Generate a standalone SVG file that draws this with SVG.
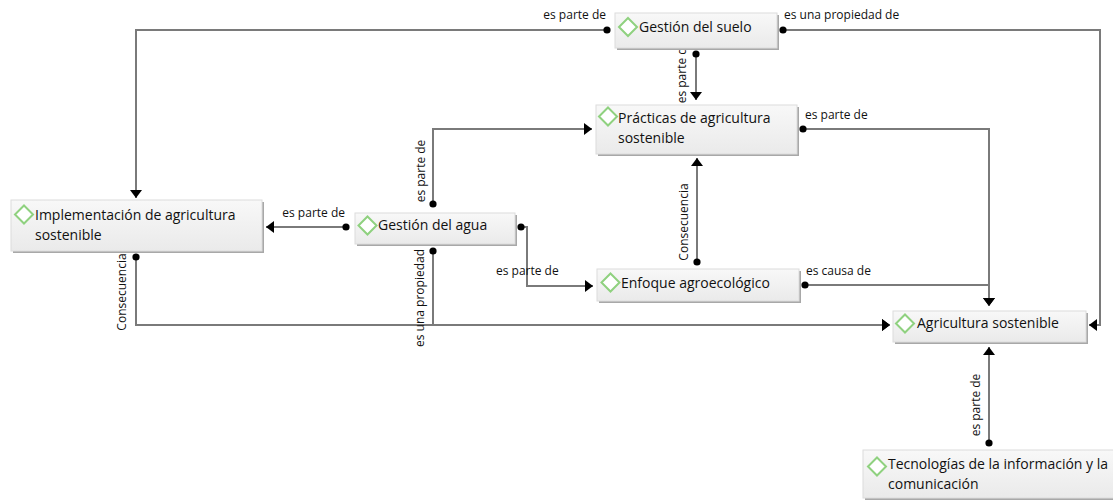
<svg xmlns="http://www.w3.org/2000/svg" width="1113" height="501" viewBox="0 0 1113 501">
  <style>
    .conn { fill: none; stroke: #7a7a7a; stroke-width: 2; marker-start: url(#dot); marker-end: url(#arrow); }
    .lbl { font-family: "Open Sans", "Liberation Sans", sans-serif; font-size: 12px; fill: #111111; }
    .box { fill: url(#boxGrad); stroke: #dcdcdc; stroke-width: 1; }
    .shadow { fill: #a8a8a8; }
    .dia { fill: #ffffff; stroke: #8fd17f; stroke-width: 2; }
    .txt { font-family: "Open Sans", "Liberation Sans", sans-serif; font-size: 14px; fill: #111111; }
  </style>
  <defs>
    <linearGradient id="boxGrad" x1="0" y1="0" x2="0" y2="1">
      <stop offset="0" stop-color="#f8f8f8"/>
      <stop offset="1" stop-color="#eaeaea"/>
    </linearGradient>
    <marker id="arrow" markerUnits="userSpaceOnUse" markerWidth="14" markerHeight="14" refX="8" refY="6" orient="auto">
      <path d="M0,0 L8,6 L0,12 z" fill="#000"/>
    </marker>
    <marker id="dot" markerUnits="userSpaceOnUse" markerWidth="8" markerHeight="8" refX="4" refY="4">
      <circle cx="4" cy="4" r="3.6" fill="#000"/>
    </marker>
  </defs>
  <rect width="1113" height="501" fill="#ffffff"/>

  <g id="connectors">
    <path class="conn" d="M607 30 H136 V198"/>
    <path class="conn" d="M783 30 H1100 V325 H1089"/>
    <path class="conn" d="M696 54 V100"/>
    <path class="conn" d="M433 204 V129 H592"/>
    <path class="conn" d="M346 227 H266"/>
    <path class="conn" d="M521 227 H527 V286 H593"/>
    <path class="conn" d="M136 257 V325 H890"/>
    <path class="conn" d="M433 251 V325 H890"/>
    <path class="conn" d="M697 262 V158"/>
    <path class="conn" d="M803 129 H989 V306"/>
    <path class="conn" d="M805 285 H989 V306"/>
    <path class="conn" d="M989 443 V347"/>
  </g>

  <g id="connector-labels">
    <text class="lbl" x="606" y="19" text-anchor="end">es parte de</text>
    <text class="lbl" x="784" y="19">es una propiedad de</text>
    <text class="lbl" transform="translate(686,72) rotate(-90)" text-anchor="middle">es parte de</text>
    <text class="lbl" transform="translate(425,171) rotate(-90)" text-anchor="middle">es parte de</text>
    <text class="lbl" x="345" y="217" text-anchor="end">es parte de</text>
    <text class="lbl" x="496" y="275">es parte de</text>
    <text class="lbl" transform="translate(424,298) rotate(-90)" text-anchor="middle">es una propiedad</text>
    <text class="lbl" transform="translate(126,292) rotate(-90)" text-anchor="middle">Consecuencia</text>
    <text class="lbl" transform="translate(688,222) rotate(-90)" text-anchor="middle">Consecuencia</text>
    <text class="lbl" x="805" y="119">es parte de</text>
    <text class="lbl" x="806" y="275">es causa de</text>
    <text class="lbl" transform="translate(980,405) rotate(-90)" text-anchor="middle">es parte de</text>
  </g>

  <g id="node-gestion-suelo">
    <rect class="shadow" x="617" y="15" width="162" height="35"/>
    <rect class="box" x="615" y="13" width="162" height="35"/>
    <path class="dia" d="M628 18 L637 27 L628 36 L619 27 z"/>
    <text class="txt" x="639" y="32">Gestión del suelo</text>
  </g>

  <g id="node-practicas">
    <rect class="shadow" x="598" y="107" width="201" height="49"/>
    <rect class="box" x="596" y="105" width="201" height="49"/>
    <path class="dia" d="M608 107.5 L617 116.5 L608 125.5 L599 116.5 z"/>
    <text class="txt" x="618" y="123">Prácticas de agricultura</text>
    <text class="txt" x="618" y="143">sostenible</text>
  </g>

  <g id="node-implementacion">
    <rect class="shadow" x="13" y="202" width="251" height="51"/>
    <rect class="box" x="11" y="200" width="251" height="51"/>
    <path class="dia" d="M24 205.5 L33 214.5 L24 223.5 L15 214.5 z"/>
    <text class="txt" x="35" y="220">Implementación de agricultura</text>
    <text class="txt" x="35" y="240">sostenible</text>
  </g>

  <g id="node-gestion-agua">
    <rect class="shadow" x="357" y="215" width="160" height="31"/>
    <rect class="box" x="355" y="213" width="160" height="31"/>
    <path class="dia" d="M367.5 216.5 L376.5 225.5 L367.5 234.5 L358.5 225.5 z"/>
    <text class="txt" x="378" y="230">Gestión del agua</text>
  </g>

  <g id="node-enfoque">
    <rect class="shadow" x="599" y="271" width="202" height="32"/>
    <rect class="box" x="597" y="269" width="202" height="32"/>
    <path class="dia" d="M610.5 273.5 L619.5 282.5 L610.5 291.5 L601.5 282.5 z"/>
    <text class="txt" x="621" y="288">Enfoque agroecológico</text>
  </g>

  <g id="node-agricultura">
    <rect class="shadow" x="895" y="313" width="193" height="31"/>
    <rect class="box" x="893" y="311" width="193" height="31"/>
    <path class="dia" d="M905 314.5 L914 323.5 L905 332.5 L896 323.5 z"/>
    <text class="txt" x="917" y="328">Agricultura sostenible</text>
  </g>

  <g id="node-tecnologias">
    <rect class="shadow" x="865" y="452" width="250" height="48"/>
    <rect class="box" x="863" y="450" width="252" height="48"/>
    <path class="dia" d="M877 457.5 L886 466.5 L877 475.5 L868 466.5 z"/>
    <text class="txt" x="888" y="469">Tecnologías de la información y la</text>
    <text class="txt" x="888" y="489">comunicación</text>
  </g>
</svg>
